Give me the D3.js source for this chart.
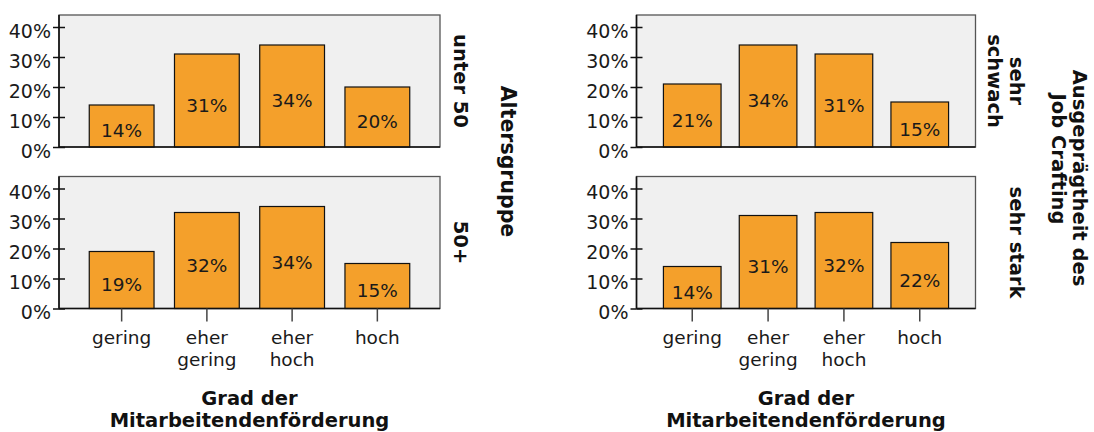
<!DOCTYPE html>
<html><head><meta charset="utf-8">
<script src="https://cdn.jsdelivr.net/npm/d3@7"></script>
<style>
html,body{margin:0;padding:0;background:#fff;}
svg{display:block;font-family:"DejaVu Sans",Verdana,sans-serif;}
</style></head>
<body><svg id="c" width="1094" height="432"></svg>
<script>
// ---- data ----
const categories = ["gering", "eher gering", "eher hoch", "hoch"];
const yTicks = [0, 10, 20, 30, 40];
const ageLabels = [["unter 50"], ["50+"]];
const ageValues = [[14, 31, 34, 20], [19, 32, 34, 15]];
const craftLabels = [["sehr", "schwach"], ["sehr stark"]];
const craftValues = [[21, 34, 31, 15], [14, 31, 32, 22]];
const xTitle = ["Grad der", "Mitarbeitendenförderung"];
const ageTitle = ["Altersgruppe"];
const craftTitle = ["Ausgeprägtheit des", "Job Crafting"];

// ---- layout ----
const svg = d3.select("#c");
const rows = [{y0: 15, y1: 147}, {y0: 176.5, y1: 308.5}];
const cols = [
  {x0: 59, x1: 440, values: ageValues, strips: ageLabels, stripX: [454], title: ageTitle, titleX: [501], titleY: [161.5], titleSize: 20.5},
  {x0: 636.5, x1: 975.5, values: craftValues, strips: craftLabels, stripX: [1010, 988], title: craftTitle, titleX: [1073, 1052], titleY: [178, 159], titleSize: 19.5}
];
const orange = "#F4A02B";

cols.forEach(col => {
  const x = d3.scaleBand().domain(categories).range([col.x0, col.x1])
    .paddingInner(0.24).paddingOuter(0.355);
  rows.forEach((row, ri) => {
    const y = d3.scaleLinear().domain([0, 44]).range([row.y1, row.y0]);
    const g = svg.append("g");
    g.append("rect").attr("x", col.x0).attr("y", row.y0)
      .attr("width", col.x1 - col.x0).attr("height", row.y1 - row.y0)
      .attr("fill", "#f0f0f0").attr("stroke", "#555").attr("stroke-width", 1.3);
    // bars
    const vals = col.values[ri];
    g.selectAll("rect.bar").data(categories).join("rect").attr("class", "bar")
      .attr("x", d => x(d)).attr("width", x.bandwidth())
      .attr("y", (d, i) => y(vals[i])).attr("height", (d, i) => y(0) - y(vals[i]))
      .attr("fill", orange).attr("stroke", "#111").attr("stroke-width", 1.2);
    g.selectAll("text.bl").data(categories).join("text").attr("class", "bl")
      .attr("x", d => x(d) + x.bandwidth() / 2)
      .attr("y", (d, i) => (y(vals[i]) + y(0)) / 2 + 11)
      .attr("text-anchor", "middle").attr("font-size", 18.5).attr("fill", "#1a1a1a")
      .text((d, i) => vals[i] + "%");
    // y axis
    const ax = d3.axisLeft(y).tickValues(yTicks).tickFormat(d => d + "%").tickSize(6).tickPadding(3);
    const ag = g.append("g").attr("transform", `translate(${col.x0},0)`).call(ax);
    ag.select(".domain").remove();
    ag.selectAll(".tick line").attr("stroke", "#111").attr("stroke-width", 1.5);
    ag.selectAll(".tick text").attr("font-size", 19).attr("fill", "#1a1a1a")
      .attr("font-family", "DejaVu Sans").attr("dy", "0.55em").attr("x", -8);
    const ai = d3.axisLeft(y).tickValues(yTicks).tickFormat("").tickSize(-6);
    const aig = g.append("g").attr("transform", `translate(${col.x0},0)`).call(ai);
    aig.select(".domain").remove();
    aig.selectAll(".tick line").attr("stroke", "#111").attr("stroke-width", 1.5);
    // axis lines
    g.append("line").attr("x1", col.x0).attr("x2", col.x0).attr("y1", row.y0).attr("y2", row.y1)
      .attr("stroke", "#111").attr("stroke-width", 1.6);
    g.append("line").attr("x1", col.x0).attr("x2", col.x1).attr("y1", row.y1).attr("y2", row.y1)
      .attr("stroke", "#111").attr("stroke-width", 1.6);
    // strip label
    const st = g.append("text").attr("transform", `translate(0,${(row.y0 + row.y1) / 2}) rotate(90)`)
      .attr("text-anchor", "middle").attr("font-weight", "bold").attr("font-size", 19.5).attr("fill", "#111");
    col.strips[ri].forEach((t, li) => {
      st.append("tspan").attr("x", 0).attr("y", -col.stripX[li]).text(t);
    });
    if (ri === 1) {
      const xa = d3.axisBottom(x).tickSize(13).tickFormat("");
      const xg = g.append("g").attr("transform", `translate(0,${row.y1})`).call(xa);
      xg.select(".domain").remove();
      xg.selectAll(".tick line").attr("stroke", "#444").attr("stroke-width", 1.5);
      categories.forEach(c => {
        const t = g.append("text").attr("text-anchor", "middle").attr("font-size", 18.5).attr("fill", "#1a1a1a");
        c.split(" ").forEach((w, li) => {
          t.append("tspan").attr("x", x(c) + x.bandwidth() / 2).attr("y", row.y1 + 35.5 + li * 22).text(w);
        });
      });
    }
  });
  // x title
  const cx = (col.x0 + col.x1) / 2;
  const tt = svg.append("text").attr("text-anchor", "middle").attr("font-weight", "bold")
    .attr("font-size", 19.5).attr("fill", "#111");
  xTitle.forEach((t, li) => tt.append("tspan").attr("x", cx).attr("y", 405 + li * 22).text(t));
  // row-variable title
  col.title.forEach((t, li) => {
    svg.append("text").attr("transform", `translate(0,${col.titleY[li]}) rotate(90)`)
      .attr("text-anchor", "middle").attr("font-weight", "bold").attr("font-size", col.titleSize).attr("fill", "#111")
      .append("tspan").attr("x", 0).attr("y", -col.titleX[li]).text(t);
  });
});
</script></body></html>
